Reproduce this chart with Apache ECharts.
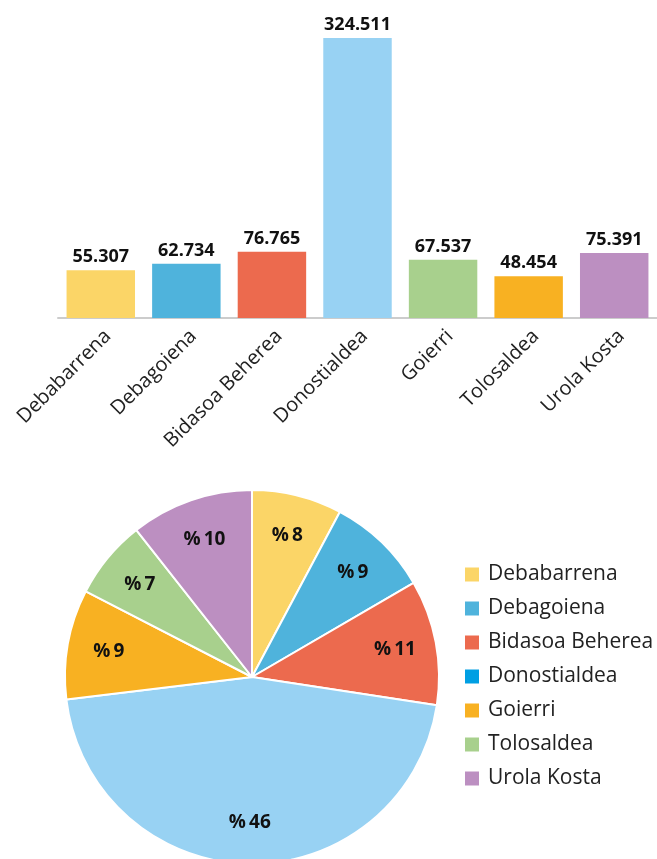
<!DOCTYPE html>
<html>
<head>
<meta charset="utf-8">
<script src="https://cdn.jsdelivr.net/npm/echarts@6/dist/echarts.min.js"></script>
<style>
  html, body { margin: 0; padding: 0; background: #fff; }
  #chart { width: 657px; height: 859px; }
</style>
</head>
<body>
<div id="chart"></div>
<script>
// eskualdeak
const categories = ['Debabarrena', 'Debagoiena', 'Bidasoa Beherea', 'Donostialdea', 'Goierri', 'Tolosaldea', 'Urola Kosta']
const values = [55307, 62734, 76765, 324511, 67537, 48454, 75391]
// barretan Goierri berdea eta Tolosaldea laranja, tartan alderantziz
const barColors = ['#fbd567', '#4fb3dc', '#ec6a4e', '#98d2f3', '#a8d08d', '#f8b122', '#bc8fc1']
const pieColors = ['#fbd567', '#4fb3dc', '#ec6a4e', '#98d2f3', '#f8b122', '#a8d08d', '#bc8fc1']
const legendColors = ['#fbd567', '#4fb3dc', '#ec6a4e', '#009fe3', '#f8b122', '#a8d08d', '#bc8fc1']

const font = 'Open Sans'
const fmt = v => String(v).replace(/\B(?=(\d{3})+(?!\d))/g, '.')

const chart = echarts.init(document.getElementById('chart'), null, { renderer: 'canvas' })

const pieData = categories.map((c, i) => ({ name: c, value: values[i], itemStyle: { color: pieColors[i] } }))

const option = {
  animation: false,
  grid: { left: 58, width: 605, top: 16, bottom: 541, containLabel: false },
  xAxis: {
    type: 'category',
    data: categories,
    axisLine: { lineStyle: { color: '#cccccc', width: 2 } },
    axisTick: { show: false },
    axisLabel: {
      interval: 0, rotate: 45, fontSize: 20, fontFamily: font, color: '#222',
      margin: 8, verticalAlign: 'top'
    }
  },
  yAxis: {
    type: 'value', min: 0, max: 350000,
    show: false, splitLine: { show: false }
  },
  legend: {
    orient: 'vertical',
    left: 458, top: 559,
    itemWidth: 16, itemHeight: 16, itemGap: 13,
    icon: 'rect',
    textStyle: { fontSize: 21, fontFamily: font, color: '#222', padding: [0, 0, 0, 3] },
    data: categories.map((c, i) => ({ name: c, itemStyle: { color: legendColors[i] } }))
  },
  series: [
    {
      type: 'bar',
      data: values.map((v, i) => ({ value: v, itemStyle: { color: barColors[i] } })),
      barCategoryGap: '20%',
      label: {
        show: true, position: 'top', distance: 4,
        fontSize: 18, fontWeight: 'bold', fontFamily: font, color: '#111',
        formatter: p => fmt(p.value)
      }
    },
    {
      type: 'pie',
      center: [252, 677], radius: [0, 187],
      startAngle: 90, clockwise: true,
      percentPrecision: 0,
      itemStyle: { borderColor: '#fff', borderWidth: 2 },
      label: { show: false },
      labelLine: { show: false },
      emphasis: { disabled: true },
      data: pieData
    },
    {
      // etiketak bakarrik, erradioaren %77an
      type: 'pie',
      center: [252, 677], radius: [98, 187],
      startAngle: 90, clockwise: true,
      percentPrecision: 0,
      silent: true,
      itemStyle: { color: 'rgba(0,0,0,0)', borderWidth: 0 },
      label: {
        show: true, position: 'inside',
        fontSize: 19, fontWeight: 'bold', fontFamily: font, color: '#111',
        formatter: '%\u2009{d}'
      },
      labelLine: { show: false },
      emphasis: { disabled: true },
      data: categories.map((c, i) => ({ name: c, value: values[i] }))
    }
  ]
}

chart.setOption(option)
</script>
</body>
</html>
